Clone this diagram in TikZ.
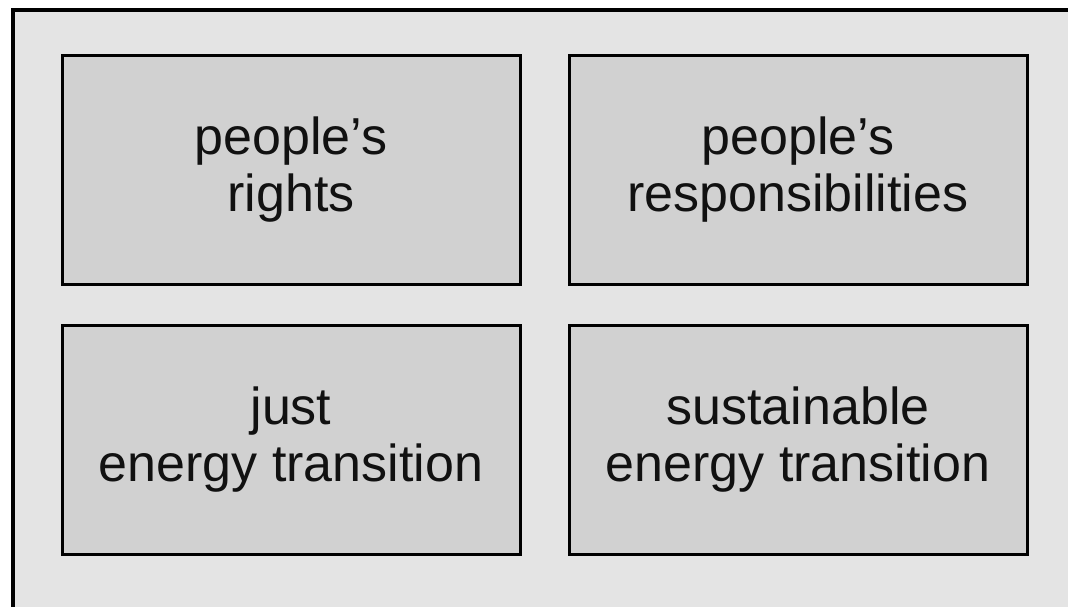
\documentclass[tikz,border=0pt]{standalone}
\usepackage{fontspec}
\setmainfont{Liberation Sans}
\definecolor{bgc}{HTML}{E4E4E4}
\definecolor{boxc}{HTML}{D1D1D1}
\definecolor{txt}{HTML}{111111}
\begin{document}
\begin{tikzpicture}[x=1pt,y=-1pt,
  cell/.style={draw=black, line width=3pt, fill=boxc, minimum width=458pt, minimum height=229pt,
    inner sep=0pt, align=center, text=txt, font=\fontsize{52}{57}\selectfont}]
\useasboundingbox (0,0) rectangle (1068,606);
\fill[white] (0,0) rectangle (1068,606);
\draw[line width=4pt, fill=bgc] (13,10) rectangle (1090,630);
\node[cell] (a) at (291,169.5) {people’s\\rights};
\node[cell] (b) at (798,169.5) {people’s\\responsibilities};
\node[cell] (c) at (291,439.5) {just\\energy transition};
\node[cell] (d) at (798,439.5) {sustainable\\energy transition};
\end{tikzpicture}
\end{document}
